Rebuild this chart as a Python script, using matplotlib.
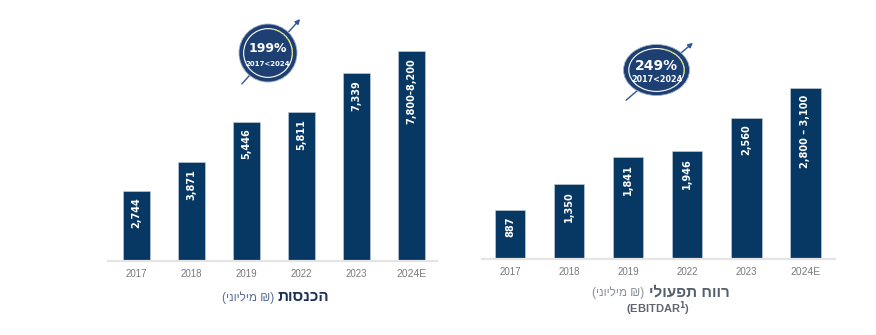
import matplotlib.pyplot as plt
import matplotlib.patches as mpatches
import numpy as np

# years on the x axis (same for both panels)
years = ['2017', '2018', '2019', '2022', '2023', '2024E']

# revenue, NIS millions (2024E is a range, bar drawn to the upper end)
revenue = [2744, 3871, 5446, 5811, 7339, 8200]
revenue_labels = ['2,744', '3,871', '5,446', '5,811', '7,339', '7,800-8,200']

# operating profit (EBITDAR), NIS millions
ebitdar = [887, 1350, 1841, 1946, 2560, 3100]
ebitdar_labels = ['887', '1,350', '1,841', '1,946', '2,560', '2,800 – 3,100']

# growth badges
revenue_growth = '199%'
ebitdar_growth = '249%'
growth_period = '2017<2024'

NAVY = '#073763'
BADGE = '#1e3f72'
TICK = '#7a7a7a'
W, H = 876, 335

plt.rcParams['font.family'] = ['DejaVu Sans']

fig = plt.figure(figsize=(W / 100, H / 100), dpi=100)


def px_axes(left, right, base, top):
    # axes placed by pixel box (top-left origin)
    return fig.add_axes([left / W, 1 - base / H, (right - left) / W, (base - top) / H])


def bar_panel(ax, values, labels, width, xlim, ymax, label_size):
    x = np.arange(len(values))
    ax.bar(x, values, width=width, color=NAVY, edgecolor='#c9d3e0', linewidth=0.4, zorder=2)
    for xi, v, lab in zip(x, values, labels):
        ax.annotate(lab, (xi, v), xytext=(0, -5), textcoords='offset points',
                    rotation=90, ha='center', va='top', color='white',
                    fontsize=label_size, fontweight='bold', zorder=3)
    ax.set_xlim(*xlim)
    ax.set_ylim(0, ymax)
    for s in ['top', 'right', 'left']:
        ax.spines[s].set_visible(False)
    ax.spines['bottom'].set_color('#e4e4e4')
    ax.spines['bottom'].set_linewidth(1.6)
    ax.set_yticks([])
    ax.set_xticks(x)
    ax.set_xticklabels(years, fontsize=7, color=TICK, family='Liberation Sans')
    ax.tick_params(axis='x', length=0, pad=6)
    ax.get_xticklabels()[-1].set_fontsize(7.5)
    ax.patch.set_alpha(0)


# left panel: revenue
ax1 = px_axes(108, 437, 260.5, 0)
bar_panel(ax1, revenue, revenue_labels, 0.5, (-0.52, 5.46), 260.5 / 0.0255, 7)

# right panel: EBITDAR
ax2 = px_axes(482, 835, 258.5, 0)
bar_panel(ax2, ebitdar, ebitdar_labels, 0.51, (-0.48, 5.5), 258.5 / 0.055, 7)

# overlay in pixel coordinates for badges and titles
ov = fig.add_axes([0, 0, 1, 1])
ov.set_xlim(0, W)
ov.set_ylim(H, 0)
ov.axis('off')
ov.patch.set_alpha(0)


def badge(cx, cy, rx, ry, big, big_size, small_size, tail, head):
    ov.annotate('', xy=head, xytext=tail,
                arrowprops=dict(arrowstyle='-|>', color='#2f5597', lw=1.0,
                                mutation_scale=7), zorder=4)
    ov.add_patch(mpatches.Ellipse((cx, cy), 2 * rx, 2 * ry, facecolor=BADGE,
                                  edgecolor='#9fb0c8', lw=0.6, zorder=5))
    ov.add_patch(mpatches.Ellipse((cx, cy), 2 * rx * 0.84, 2 * ry * 0.84, facecolor='none',
                                  edgecolor='white', lw=0.8, zorder=6))
    # dotted accent arc on the upper right of the ring
    t = np.linspace(np.radians(-10), np.radians(80), 40)
    ov.plot(cx + rx * 0.84 * np.cos(t), cy - ry * 0.84 * np.sin(t), color='#c8c83c',
            lw=1.0, ls=(0, (1, 1)), zorder=7)
    ov.text(cx, cy - ry * 0.17, big, color='white', fontsize=big_size, fontweight='bold',
            ha='center', va='center', zorder=8)
    ov.text(cx, cy + ry * 0.37, growth_period, color='white', fontsize=small_size,
            fontweight='bold', ha='center', va='center', zorder=8)


badge(268, 53, 29, 29, revenue_growth, 9, 5, (240, 86), (302, 17))
badge(656.5, 70, 33, 25.5, ebitdar_growth, 10, 5.8, (624, 102), (695, 41))

# titles (Hebrew written in visual order)
ov.text(278, 297, 'תוסנכה', fontsize=11, fontweight='bold', color='#1b2f57',
        ha='left', va='center', family='Liberation Sans')
ov.text(274, 298, '(ינוילימ ₪)', fontsize=8.5, color='#5a6f96',
        ha='right', va='center', family='Liberation Sans')

ov.text(649, 292, 'ילועפת חוור', fontsize=11, fontweight='bold', color='#55606e',
        ha='left', va='center', family='Liberation Sans')
ov.text(644, 293, '(ינוילימ ₪)', fontsize=8.5, color='#8a8f99',
        ha='right', va='center', family='Liberation Sans')
ov.text(658, 309, '(EBITDAR$^{\\mathbf{1}}$)', fontsize=8, fontweight='bold', color='#5f6670',
        ha='center', va='center', family='Liberation Sans')

fig.savefig('out.png', dpi=100, facecolor='white')
